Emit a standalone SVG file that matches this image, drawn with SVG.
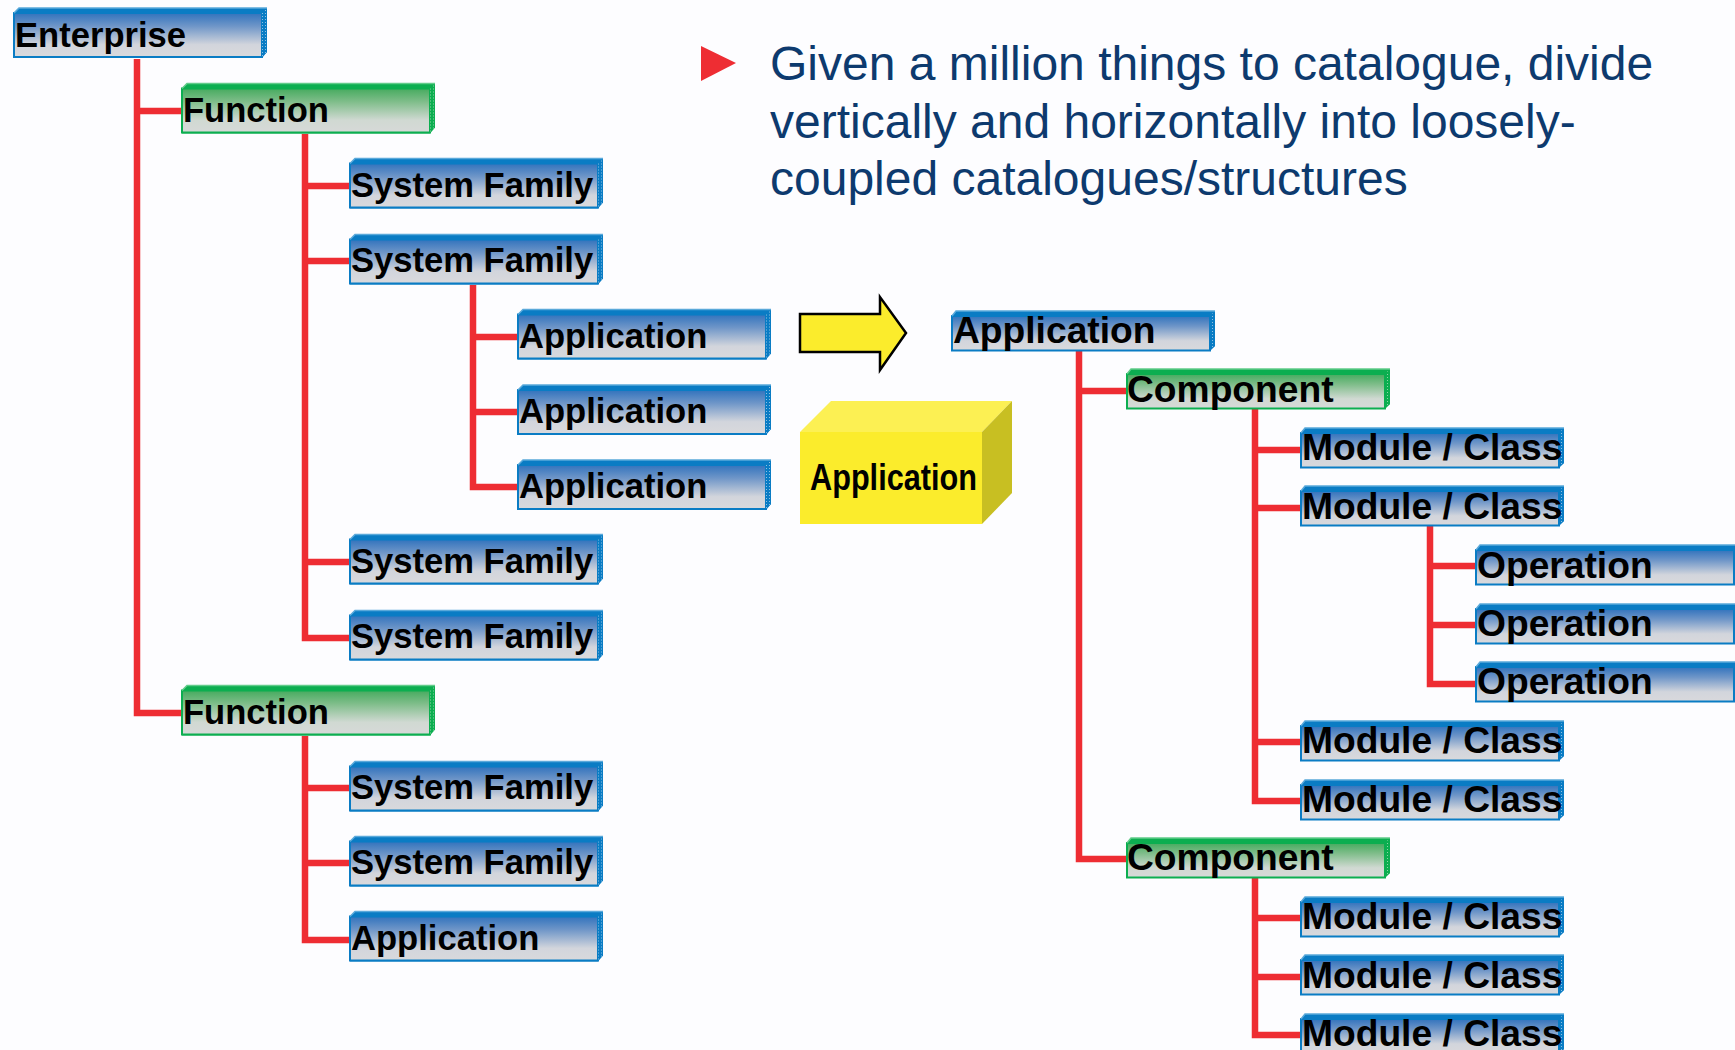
<svg xmlns="http://www.w3.org/2000/svg" width="1735" height="1050" viewBox="0 0 1735 1050">
<style>
text{font-family:"Liberation Sans",Arial,sans-serif}
.l{font-weight:700;font-size:34.6px;fill:#000}
.r{font-weight:700;font-size:37.2px;fill:#000}
.t{font-size:48px;fill:#0d3a6e}
.c{fill:none;stroke:#ee2d33;stroke-width:6.500}
</style>
<defs>
<linearGradient id="gb" x1="0" y1="0" x2="0" y2="1"><stop offset="0" stop-color="#3273bd"/><stop offset=".3" stop-color="#6f96c8"/><stop offset=".72" stop-color="#d2d5dc"/><stop offset="1" stop-color="#d9d9dc"/></linearGradient>
<linearGradient id="gg" x1="0" y1="0" x2="0" y2="1"><stop offset="0" stop-color="#46ab5f"/><stop offset=".3" stop-color="#7fbd8a"/><stop offset=".72" stop-color="#d0d9d2"/><stop offset="1" stop-color="#d7d9d8"/></linearGradient>
<pattern id="db" width="3" height="3" patternUnits="userSpaceOnUse"><rect width="3" height="3" fill="#0a7cc4"/><rect width="1" height="1" fill="#8fc0e2"/></pattern>
<pattern id="dg" width="3" height="3" patternUnits="userSpaceOnUse"><rect width="3" height="3" fill="#0cae50"/><rect width="1" height="1" fill="#8ed4a6"/></pattern>
<g id="bl"><path d="M1 6L6 1H254V45L249 51H1Z" fill="#0a7cc4"/><rect x="1" y="6" width="248" height="44" fill="url(#gb)" stroke="#0a7cc4" stroke-width="2"/><path d="M249 6L254 1V45L249 50Z" fill="url(#db)"/><path d="M1 6L6 1H254" fill="none" stroke="#5aa9da" stroke-width="1.5"/></g>
<g id="gl"><path d="M1 6L6 1H254V45L249 51H1Z" fill="#0cae50"/><rect x="1" y="6" width="248" height="44" fill="url(#gg)" stroke="#0cae50" stroke-width="2"/><path d="M249 6L254 1V45L249 50Z" fill="url(#dg)"/><path d="M1 6L6 1H254" fill="none" stroke="#62cc8a" stroke-width="1.5"/></g>
<g id="br"><path d="M1 6L5 1H264V36L259 41H1Z" fill="#0a7cc4"/><rect x="1" y="6" width="258" height="34.500" fill="url(#gb)" stroke="#0a7cc4" stroke-width="2"/><path d="M259 6L264 1V36L259 40Z" fill="url(#db)"/><path d="M1 6L5 1H264" fill="none" stroke="#5aa9da" stroke-width="1.5"/></g>
<g id="gr"><path d="M1 6L5 1H264V36L259 41H1Z" fill="#0cae50"/><rect x="1" y="6" width="258" height="34.500" fill="url(#gg)" stroke="#0cae50" stroke-width="2"/><path d="M259 6L264 1V36L259 40Z" fill="url(#dg)"/><path d="M1 6L5 1H264" fill="none" stroke="#62cc8a" stroke-width="1.5"/></g>
</defs>
<rect id="background" width="1735" height="1050" fill="#fdfdff"/>
<g id="connectors">
<path class="c" d="M137 59V713H181M137 111H181"/>
<path class="c" d="M305 134V638H349M305 186H349M305 261H349M305 562H349"/>
<path class="c" d="M473 285V487H517M473 337H517M473 412H517"/>
<path class="c" d="M305 736V940H349M305 788H349M305 863H349"/>
<path class="c" d="M1079 351V859H1126M1079 391H1126"/>
<path class="c" d="M1255 409V801H1300M1255 450H1300M1255 508H1300M1255 742H1300"/>
<path class="c" d="M1430 526V684H1475M1430 566H1475M1430 625H1475"/>
<path class="c" d="M1255 877V1035H1300M1255 918H1300M1255 977H1300"/>
</g>
<g id="n1"><use href="#bl" x="13" y="7"/><text class="l" x="15" y="47">Enterprise</text></g>
<g id="n2"><use href="#gl" x="181" y="82.500"/><text class="l" x="183" y="122">Function</text></g>
<g id="n3"><use href="#bl" x="349" y="157.500"/><text class="l" x="351" y="197">System Family</text></g>
<g id="n4"><use href="#bl" x="349" y="233.500"/><text class="l" x="351" y="272">System Family</text></g>
<g id="n5"><use href="#bl" x="517" y="308.500"/><text class="l" x="519" y="348">Application</text></g>
<g id="n6"><use href="#bl" x="517" y="384"/><text class="l" x="519" y="423">Application</text></g>
<g id="n7"><use href="#bl" x="517" y="459"/><text class="l" x="519" y="498">Application</text></g>
<g id="n8"><use href="#bl" x="349" y="533.500"/><text class="l" x="351" y="573">System Family</text></g>
<g id="n9"><use href="#bl" x="349" y="609.500"/><text class="l" x="351" y="648">System Family</text></g>
<g id="n10"><use href="#gl" x="181" y="684.500"/><text class="l" x="183" y="724">Function</text></g>
<g id="n11"><use href="#bl" x="349" y="760.500"/><text class="l" x="351" y="799">System Family</text></g>
<g id="n12"><use href="#bl" x="349" y="835.500"/><text class="l" x="351" y="874">System Family</text></g>
<g id="n13"><use href="#bl" x="349" y="910.500"/><text class="l" x="351" y="950">Application</text></g>
<g id="n14"><use href="#br" x="951" y="310"/><text class="r" x="953" y="343">Application</text></g>
<g id="n15"><use href="#gr" x="1126" y="368"/><text class="r" x="1127" y="402">Component</text></g>
<g id="n16"><use href="#br" x="1300" y="427"/><text class="r" x="1302" y="460">Module / Class</text></g>
<g id="n17"><use href="#br" x="1300" y="485"/><text class="r" x="1302" y="519">Module / Class</text></g>
<g id="n18"><use href="#br" x="1475" y="544"/><text class="r" x="1477" y="578">Operation</text></g>
<g id="n19"><use href="#br" x="1475" y="603"/><text class="r" x="1477" y="636">Operation</text></g>
<g id="n20"><use href="#br" x="1475" y="661"/><text class="r" x="1477" y="694">Operation</text></g>
<g id="n21"><use href="#br" x="1300" y="720"/><text class="r" x="1302" y="753">Module / Class</text></g>
<g id="n22"><use href="#br" x="1300" y="779"/><text class="r" x="1302" y="812">Module / Class</text></g>
<g id="n23"><use href="#gr" x="1126" y="837"/><text class="r" x="1127" y="870">Component</text></g>
<g id="n24"><use href="#br" x="1300" y="896"/><text class="r" x="1302" y="929">Module / Class</text></g>
<g id="n25"><use href="#br" x="1300" y="954"/><text class="r" x="1302" y="988">Module / Class</text></g>
<g id="n26"><use href="#br" x="1300" y="1013"/><text class="r" x="1302" y="1046">Module / Class</text></g>
<g id="arrow"><path d="M800 314H880V297L906 333L880 370V352H800Z" fill="#fbec2c" stroke="#000" stroke-width="2.500"/></g>
<g id="cube">
<path d="M800 432L831 401H1012L982 432Z" fill="#fcf053"/>
<path d="M982 432L1012 401V493L982 524Z" fill="#c8bf22"/>
<rect x="800" y="432" width="182" height="92" fill="#fbec2c"/>
<text x="810" y="490" font-weight="700" font-size="37" textLength="167" lengthAdjust="spacingAndGlyphs" fill="#000">Application</text>
</g>
<g id="note">
<path d="M701 46L736 63L701 81Z" fill="#ee2d33"/>
<text class="t" x="770" y="80">Given a million things to catalogue, divide</text>
<text class="t" x="770" y="138">vertically and horizontally into loosely-</text>
<text class="t" x="770" y="195">coupled catalogues/structures</text>
</g>
</svg>
